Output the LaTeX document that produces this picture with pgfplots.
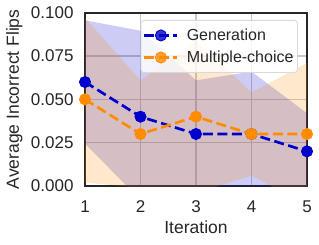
\documentclass[border=0pt]{standalone}
\usepackage{pgfplots}
\pgfplotsset{compat=1.18}
\usepgfplotslibrary{fillbetween}
\usepackage{fontspec}
\setmainfont{Liberation Sans}
\definecolor{genblue}{RGB}{0,0,205}
\definecolor{mcorange}{RGB}{255,140,0}
\definecolor{spine}{RGB}{38,38,38}
\definecolor{gridc}{RGB}{200,200,200}
\begin{document}
\begin{tikzpicture}
\begin{axis}[
  name=ax,
  scale only axis,
  width=222pt, height=173.3pt,
  xmin=1, xmax=5, ymin=0, ymax=0.1,
  xtick={1,2,3,4,5},
  ytick={0,0.025,0.05,0.075,0.1},
  /pgf/number format/assume math mode=true,
  yticklabel style={/pgf/number format/fixed,/pgf/number format/fixed zerofill,/pgf/number format/precision=3, xshift=-8pt},
  xticklabel style={yshift=-11pt},
  tick label style={font=\fontsize{17}{17}\selectfont, text=spine},
  label style={font=\fontsize{17.5}{17.5}\selectfont, text=spine},
  xlabel={Iteration},
  ylabel={Average Incorrect Flips},
  xlabel style={at={(axis description cs:0.5,-0.239)}, anchor=center},
  ylabel style={at={(axis description cs:-0.318,0.5)}, anchor=center},
  major tick length=0pt,
  grid=major,
  major grid style={color=gridc, line width=1.2pt},
  axis line style={line width=1.8pt, color=spine},
  legend cell align=left,
  legend style={at={(0.959,0.958)}, anchor=north east, draw=gray!30, line width=0.8pt,
    rounded corners=3pt, fill=white, fill opacity=0.8, text opacity=1,
    font=\fontsize{16}{16}\selectfont, row sep=5pt, inner xsep=2pt, inner ysep=6.5pt, text=spine},
  legend image code/.code={\draw[mark repeat=2, mark phase=2, #1] plot coordinates {(0pt,0pt) (16.5pt,0pt) (33pt,0pt)}; \path (39pt,0pt);},
]
% bands
\addplot[name path=gu, draw=none, forget plot] coordinates {(1,0.0956) (2,0.0896) (3,0.061) (4,0.066) (5,0.042)};
\addplot[name path=gl, draw=none, forget plot] coordinates {(1,0.0244) (2,-0.008) (3,-0.001) (4,-0.006) (5,-0.002)};
\addplot[fill=genblue, fill opacity=0.2, draw=none, forget plot] fill between[of=gu and gl];
\addplot[name path=mu, draw=none, forget plot] coordinates {(1,0.097) (2,0.061) (3,0.084) (4,0.054) (5,0.071)};
\addplot[name path=ml, draw=none, forget plot] coordinates {(1,0.002) (2,-0.001) (3,-0.004) (4,0.006) (5,-0.011)};
\addplot[fill=mcorange, fill opacity=0.2, draw=none, forget plot] fill between[of=mu and ml];
% lines
\addplot[color=genblue, line width=2.7pt, dash pattern=on 10pt off 4.5pt, mark=*, mark size=5.6pt, mark options={solid, line width=0.8pt}]
  coordinates {(1,0.06) (2,0.04) (3,0.03) (4,0.03) (5,0.02)};
\addlegendentry{Generation}
\addplot[color=mcorange, line width=2.7pt, dash pattern=on 10pt off 4.5pt, mark=*, mark size=5.6pt, mark options={solid, line width=0.8pt}]
  coordinates {(1,0.05) (2,0.03) (3,0.04) (4,0.03) (5,0.03)};
\addlegendentry{Multiple-choice}
\end{axis}
\pgfresetboundingbox
\path (ax.south west) ++(-85pt,-58pt) rectangle ++(319pt,244pt);
\end{tikzpicture}
\end{document}
